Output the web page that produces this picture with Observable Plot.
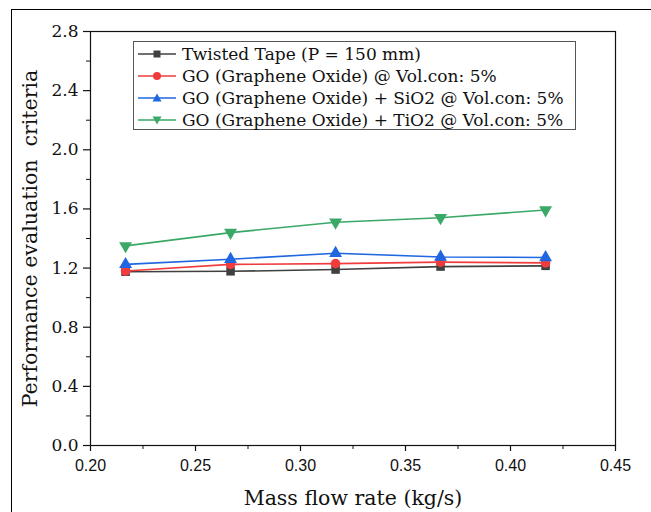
<!DOCTYPE html>
<html><head><meta charset="utf-8">
<script src="https://cdn.jsdelivr.net/npm/d3@7"></script>
<script src="https://cdn.jsdelivr.net/npm/@observablehq/plot@0.6"></script>
<style>
html,body{margin:0;padding:0;background:#fff;overflow:hidden;width:651px;height:512px;}
#wrap{position:relative;width:651px;height:512px;}
#outer{position:absolute;left:11px;top:9px;width:700px;height:600px;border:1.5px solid #000;box-sizing:border-box;}
#legend{position:absolute;left:133px;top:41px;width:443px;height:89px;border:1px solid #555;box-sizing:border-box;background:#fff;font-family:"DejaVu Serif",serif;font-size:17px;color:#111;}
.row{position:absolute;left:0;height:22px;display:flex;align-items:center;white-space:nowrap;}
.row svg{margin-left:4px;margin-right:6px;}
#chart{position:absolute;left:0;top:0;}
</style></head>
<body><div id="wrap"><div id="outer"></div><div id="chart"></div><div id="legend"></div></div>
<script>
const massFlow = [0.2167, 0.2667, 0.3167, 0.3667, 0.4167];
const seriesNames = [
  "Twisted Tape (P = 150 mm)",
  "GO (Graphene Oxide) @ Vol.con: 5%",
  "GO (Graphene Oxide) + SiO2 @ Vol.con: 5%",
  "GO (Graphene Oxide) + TiO2 @ Vol.con: 5%"
];
const twistedTape = [1.175, 1.178, 1.19, 1.21, 1.215];
const goOnly = [1.18, 1.225, 1.23, 1.24, 1.235];
const goSiO2 = [1.225, 1.26, 1.30, 1.275, 1.272];
const goTiO2 = [1.35, 1.44, 1.51, 1.54, 1.593];
const seriesColors = ["#404040", "#f03c3c", "#1f66e0", "#3aa866"];
const seriesSymbols = ["square", "circle", "triangle", "triangle"];
const seriesRotate = [0, 0, 0, 180];
const xTicks = [0.20, 0.25, 0.30, 0.35, 0.40, 0.45];
const xMinorTicks = [0.225, 0.275, 0.325, 0.375, 0.425];
const yTicks = [0.0, 0.4, 0.8, 1.2, 1.6, 2.0, 2.4, 2.8];
const yMinorTicks = [0.2, 0.6, 1.0, 1.4, 1.8, 2.2, 2.6];
const xLabel = "Mass flow rate (kg/s)";
const yLabel = "Performance evaluation  criteria";

const allValues = [twistedTape, goOnly, goSiO2, goTiO2];
const data = [];
allValues.forEach((vals, i) => vals.forEach((v, j) => data.push({series: seriesNames[i], idx: i, x: massFlow[j], y: v})));

const serif = "'DejaVu Serif', serif";
const chart = Plot.plot({
  width: 651, height: 512,
  marginLeft: 90, marginRight: 36, marginTop: 31, marginBottom: 67,
  x: {domain: [0.2, 0.45]},
  y: {domain: [0, 2.8]},
  color: {domain: seriesNames, range: seriesColors},
  symbol: {domain: seriesNames, range: seriesSymbols},
  style: {background: "transparent", color: "#111"},
  marks: [
    Plot.frame({stroke: "#111", strokeWidth: 1.2}),
    Plot.axisX({ticks: xTicks, tickFormat: d => d.toFixed(2), tickSize: 6, tickPadding: 8, fontSize: 16, fontFamily: "'Liberation Sans', Arial, sans-serif", label: null, stroke: "#111", strokeWidth: 1.2}),
    Plot.axisX({ticks: xMinorTicks, tickSize: 4, text: null, label: null, strokeWidth: 1}),
    Plot.axisY({ticks: yTicks, tickFormat: d => d.toFixed(1), tickSize: 7, tickPadding: 5, fontSize: 17, fontFamily: serif, label: null, stroke: "#111", strokeWidth: 1.2}),
    Plot.axisY({ticks: yMinorTicks, tickSize: 4, text: null, label: null, strokeWidth: 1}),
    Plot.line(data, {x: "x", y: "y", z: "series", stroke: "series", strokeWidth: 1.6}),
    Plot.dot(data, {x: "x", y: "y", symbol: "series", fill: "series", stroke: "none", r: 4.8, rotate: d => seriesRotate[d.idx]}),
    Plot.text([xLabel], {frameAnchor: "bottom", dy: 59, textAnchor: "middle", fontSize: 20.5, fontFamily: serif, fill: "#111"}),
    Plot.text([yLabel], {frameAnchor: "left", dx: -60, textAnchor: "middle", rotate: -90, fontSize: 20.5, fontFamily: serif, fill: "#111"})
  ]
});
document.getElementById("chart").appendChild(chart);

const legend = document.getElementById("legend");
seriesNames.forEach((name, i) => {
  const row = document.createElement("div");
  row.className = "row";
  row.style.top = (1 + i * 22) + "px";
  const c = seriesColors[i];
  let marker;
  if (seriesSymbols[i] === "square") marker = `<rect x="15.5" y="6.5" width="7" height="7" fill="${c}"/>`;
  else if (seriesSymbols[i] === "circle") marker = `<circle cx="19" cy="10" r="4" fill="${c}"/>`;
  else if (seriesRotate[i] === 0) marker = `<path d="M19,5.5 L23.5,13.5 L14.5,13.5 Z" fill="${c}"/>`;
  else marker = `<path d="M19,14.5 L23.5,6.5 L14.5,6.5 Z" fill="${c}"/>`;
  row.innerHTML = `<svg width="38" height="20"><line x1="0" x2="38" y1="10" y2="10" stroke="${c}" stroke-width="1.5"/>${marker}</svg><span>${name}</span>`;
  legend.appendChild(row);
});
</script></body></html>
